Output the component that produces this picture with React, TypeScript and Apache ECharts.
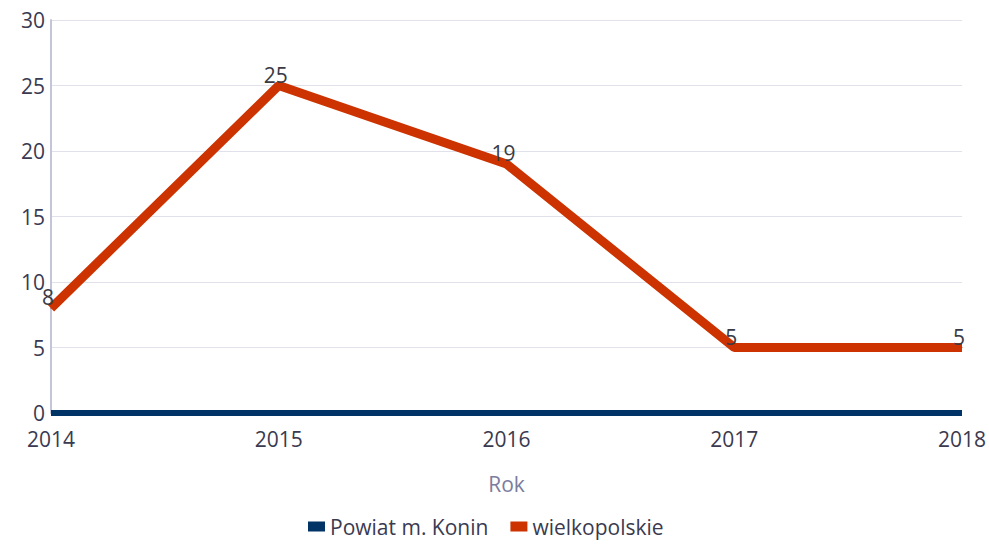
import React, { useEffect, useRef } from "react";
import * as echarts from "echarts";

const years = ["2014", "2015", "2016", "2017", "2018"];
const powiatKonin = [0, 0, 0, 0, 0];
const wielkopolskie = [8, 25, 19, 5, 5];
const seriesNames = ["Powiat m. Konin", "wielkopolskie"];

export default function App() {
  const ref = useRef<HTMLDivElement>(null);
  useEffect(() => {
    if (!ref.current) return;
    const chart = echarts.init(ref.current, null, { renderer: "svg" });
    const font = "'Open Sans', sans-serif";
    chart.setOption({
      animation: false,
      textStyle: { fontFamily: font },
      grid: { left: 51, right: 22, top: 20, bottom: 131, containLabel: false },
      legend: {
        bottom: 2,
        left: 303,
        itemWidth: 17,
        itemHeight: 10,
        itemGap: 22,
        icon: "rect",
        textStyle: { fontSize: 21, color: "#3a3a50", fontFamily: font },
        data: seriesNames,
      },
      xAxis: {
        type: "category",
        data: years,
        boundaryGap: false,
        name: "Rok",
        nameLocation: "middle",
        nameGap: 60,
        nameTextStyle: { fontSize: 21, color: "#7b7d9e", fontFamily: font },
        axisLine: { show: false },
        axisTick: { show: false },
        axisLabel: { fontSize: 21, color: "#3a3a50", margin: 15, fontFamily: font },
      },
      yAxis: {
        type: "value",
        min: 0,
        max: 30,
        interval: 5,
        axisLine: { show: true, lineStyle: { color: "#c3c6d8", width: 2 } },
        axisTick: { show: false },
        axisLabel: { fontSize: 21, color: "#3a3a50", margin: 6, fontFamily: font },
        splitLine: { lineStyle: { color: "#e0e1ea", width: 1 } },
      },
      series: [
        {
          name: seriesNames[0],
          type: "line",
          data: powiatKonin,
          symbol: "none",
          lineStyle: { color: "#003366", width: 6 },
          itemStyle: { color: "#003366" },
          z: 3,
        },
        {
          name: seriesNames[1],
          type: "line",
          data: wielkopolskie,
          symbol: "circle",
          symbolSize: 1,
          showSymbol: true,
          lineStyle: { color: "#cc3300", width: 9 },
          itemStyle: { color: "#cc3300" },
          label: {
            show: true,
            position: "top",
            distance: 0,
            offset: [-3, 0],
            fontSize: 21,
            color: "#3a3a44",
            fontFamily: font,
          },
          z: 4,
        },
      ],
    });
    return () => chart.dispose();
  }, []);
  return <div ref={ref} style={{ width: 989, height: 544, position: "absolute", left: 0, top: 0 }} />;
}
